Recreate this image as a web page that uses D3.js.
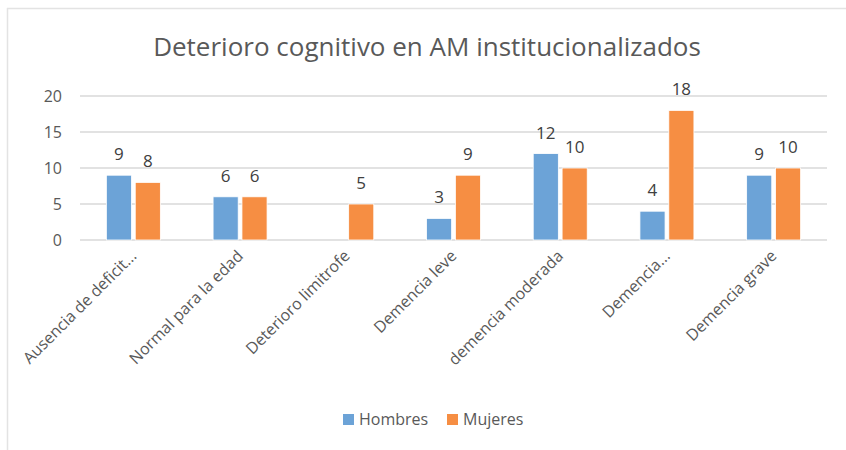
<!DOCTYPE html>
<meta charset="utf-8">
<script src="https://d3js.org/d3.v7.min.js"></script>
<style>
  body { margin: 0; background: #fff; }
  text { font-family: "Open Sans", sans-serif; }
</style>
<div id="chart"></div>
<script>
  // data
  var categories = ["Ausencia de deficit...", "Normal para la edad", "Deterioro limitrofe",
    "Demencia leve", "demencia moderada", "Demencia...", "Demencia grave"];
  var series = ["Hombres", "Mujeres"];
  var hombres = [9, 6, null, 3, 12, 4, 9];
  var mujeres = [8, 6, 5, 9, 10, 18, 10];
  var yTicks = [0, 5, 10, 15, 20];
  var colors = ["#6ca3d7", "#f68e43"];

  var W = 846, H = 450;
  var margin = {top: 96, right: 19, bottom: 210, left: 80};
  var width = W - margin.left - margin.right,
      height = H - margin.top - margin.bottom;

  var svg = d3.select("#chart").append("svg")
    .attr("width", W).attr("height", H);

  // chart frame (only left and top edge visible)
  svg.append("line").attr("x1", 7.5).attr("x2", 7.5).attr("y1", 8).attr("y2", H)
    .attr("stroke", "#e3e3e3").attr("stroke-width", 1.5);
  svg.append("line").attr("x1", 7).attr("x2", W).attr("y1", 8.5).attr("y2", 8.5)
    .attr("stroke", "#e3e3e3").attr("stroke-width", 1.5);

  svg.append("text")
    .attr("x", 427).attr("y", 56)
    .attr("text-anchor", "middle")
    .style("font-size", "26px")
    .style("fill", "#595959")
    .text("Deterioro cognitivo en AM institucionalizados");

  var g = svg.append("g")
    .attr("transform", "translate(" + margin.left + "," + margin.top + ")");

  var y = d3.scaleLinear().domain([0, 20]).range([height, 0]);

  var x0 = d3.scaleBand().domain(categories).range([0, width])
    .paddingInner(0.494).paddingOuter(0.247);
  var x1 = d3.scaleBand().domain(series).range([0, x0.bandwidth()])
    .paddingInner(0.13);

  // gridlines
  g.selectAll(".grid").data(yTicks).enter().append("line")
    .attr("x1", 0).attr("x2", width)
    .attr("y1", function(d) { return y(d); })
    .attr("y2", function(d) { return y(d); })
    .attr("stroke", "#d9d9d9").attr("stroke-width", 1.5);

  // y axis labels
  var yAxis = g.append("g")
    .call(d3.axisLeft(y).tickValues(yTicks).tickSize(0).tickPadding(18));
  yAxis.select(".domain").remove();
  yAxis.selectAll("text")
    .style("font-size", "16px").style("fill", "#595959")
    .style("font-family", "Open Sans, sans-serif");

  // x axis labels
  var xAxis = g.append("g")
    .attr("transform", "translate(0," + height + ")")
    .call(d3.axisBottom(x0).tickSize(0).tickPadding(0));
  xAxis.select(".domain").remove();
  xAxis.selectAll("text")
    .style("font-size", "16px").style("fill", "#595959")
    .style("font-family", "Open Sans, sans-serif")
    .attr("text-anchor", "end")
    .attr("dy", "0")
    .attr("y", 0)
    .attr("transform", "translate(4,17)rotate(-45)");

  var rows = categories.map(function(c, i) {
    return {cat: c, vals: [hombres[i], mujeres[i]]};
  });

  var groups = g.selectAll(".grp").data(rows).enter().append("g")
    .attr("transform", function(d) { return "translate(" + x0(d.cat) + ",0)"; });

  var cells = groups.selectAll("g.cell")
    .data(function(d) {
      return series.map(function(s, j) { return {s: s, v: d.vals[j], j: j}; })
        .filter(function(e) { return e.v != null; });
    })
    .enter().append("g");

  cells.append("rect")
    .attr("x", function(d) { return x1(d.s); })
    .attr("y", function(d) { return y(d.v); })
    .attr("width", x1.bandwidth())
    .attr("height", function(d) { return height - y(d.v); })
    .attr("fill", function(d) { return colors[d.j]; })
    .attr("stroke", "#ffffff").attr("stroke-width", 0.8);

  cells.append("text")
    .attr("x", function(d) { return x1(d.s) + x1.bandwidth() / 2; })
    .attr("y", function(d) { return y(d.v) - 15; })
    .attr("text-anchor", "middle")
    .style("font-size", "17px").style("fill", "#404040")
    .text(function(d) { return d.v; });

  // legend
  var legend = svg.append("g").attr("transform", "translate(343,419)");
  var lx = [0, 104];
  series.forEach(function(s, i) {
    var item = legend.append("g").attr("transform", "translate(" + lx[i] + ",0)");
    item.append("rect").attr("x", 0).attr("y", -5).attr("width", 11).attr("height", 11)
      .attr("fill", colors[i]);
    item.append("text").attr("x", 16).attr("y", 6)
      .style("font-size", "16px").style("fill", "#595959")
      .text(s);
  });
</script>
